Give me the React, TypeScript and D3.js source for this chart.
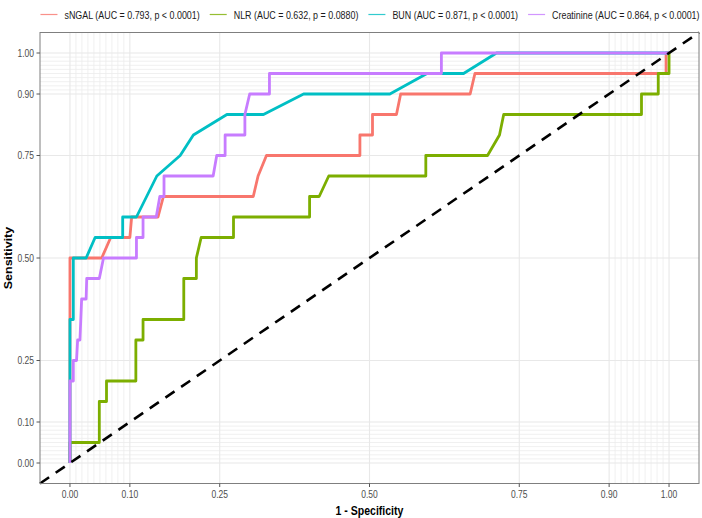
import * as d3 from "d3"
import { useEffect, useRef } from "react"

// ROC points: [1 - specificity, sensitivity]
const sngal: [number, number][] = [
  [0, 0], [0, 0.35], [0, 0.5], [0.053, 0.5], [0.068, 0.55], [0.1, 0.55], [0.103, 0.6],
  [0.147, 0.6], [0.156, 0.65], [0.306, 0.65], [0.314, 0.7], [0.328, 0.75], [0.484, 0.75],
  [0.484, 0.8], [0.505, 0.8], [0.505, 0.85], [0.545, 0.85], [0.552, 0.9], [0.668, 0.9],
  [0.676, 0.95], [0.995, 0.95], [0.995, 1], [1, 1]
]

const nlr: [number, number][] = [
  [0, 0], [0, 0.05], [0.049, 0.05], [0.049, 0.15], [0.061, 0.15], [0.061, 0.2], [0.11, 0.2],
  [0.11, 0.3], [0.122, 0.3], [0.122, 0.35], [0.19, 0.35], [0.19, 0.45], [0.211, 0.45],
  [0.211, 0.5], [0.219, 0.55], [0.273, 0.55], [0.273, 0.6], [0.4, 0.6], [0.4, 0.65],
  [0.416, 0.65], [0.432, 0.7], [0.594, 0.7], [0.594, 0.75], [0.697, 0.75], [0.717, 0.8],
  [0.724, 0.85], [0.954, 0.85], [0.954, 0.9], [0.982, 0.9], [0.982, 0.95], [1, 0.95], [1, 1]
]

const bun: [number, number][] = [
  [0, 0], [0, 0.2], [0, 0.35], [0.0056, 0.35], [0.0056, 0.5], [0.027, 0.5], [0.042, 0.55],
  [0.088, 0.55], [0.088, 0.6], [0.111, 0.6], [0.145, 0.7], [0.184, 0.75], [0.206, 0.8],
  [0.262, 0.85], [0.323, 0.85], [0.39, 0.9], [0.534, 0.9], [0.596, 0.95], [0.657, 0.95],
  [0.712, 1], [1, 1]
]

const creatinine: [number, number][] = [
  [0, 0], [0, 0.2], [0.0056, 0.2], [0.0056, 0.25], [0.011, 0.25], [0.0128, 0.3], [0.0167, 0.3],
  [0.0195, 0.4], [0.027, 0.4], [0.028, 0.45], [0.049, 0.45], [0.056, 0.5], [0.111, 0.5],
  [0.111, 0.55], [0.122, 0.55], [0.122, 0.6], [0.144, 0.6], [0.15, 0.65], [0.157, 0.65],
  [0.157, 0.7], [0.239, 0.7], [0.245, 0.75], [0.259, 0.75], [0.259, 0.8], [0.292, 0.8],
  [0.292, 0.85], [0.3, 0.9], [0.333, 0.9], [0.333, 0.95], [0.62, 0.95], [0.62, 1], [1, 1]
]

const seriesNames = [
  "sNGAL (AUC = 0.793, p < 0.0001)",
  "NLR (AUC = 0.632, p = 0.0880)",
  "BUN (AUC = 0.871, p < 0.0001)",
  "Creatinine (AUC = 0.864, p < 0.0001)"
]
const seriesColors = ["#F8766D", "#7CAE00", "#00BFC4", "#C77CFF"]
const seriesData = [sngal, nlr, bun, creatinine]

const majorBreaks = [0, 0.1, 0.25, 0.5, 0.75, 0.9, 1]
const minorBreaks = [
  0.01, 0.02, 0.03, 0.04, 0.05, 0.06, 0.07, 0.08, 0.09,
  0.91, 0.92, 0.93, 0.94, 0.95, 0.96, 0.97, 0.98, 0.99
]

const SQ = 0.81 // the picture's text is squeezed sideways

const App = () => {
  const svgRef = useRef<SVGSVGElement | null>(null)

  useEffect(() => {
    if (!svgRef.current) return
    const svg = d3.select(svgRef.current)
    svg.selectAll("*").remove()

    const left = 40, right = 699, top = 32.5, bottom = 483.5
    const x = d3.scaleLinear().domain([-0.05, 1.05]).range([left, right])
    const y = d3.scaleLinear().domain([-0.05, 1.05]).range([bottom, top])

    svg.append("rect").attr("width", 702).attr("height", 518).attr("fill", "#fff")

    const grid = svg.append("g")
    minorBreaks.forEach(v => {
      grid.append("line").attr("x1", x(v)).attr("x2", x(v)).attr("y1", top).attr("y2", bottom)
        .attr("stroke", "#ececec").attr("stroke-width", 0.8)
      grid.append("line").attr("y1", y(v)).attr("y2", y(v)).attr("x1", left).attr("x2", right)
        .attr("stroke", "#ececec").attr("stroke-width", 0.8)
    })
    majorBreaks.forEach(v => {
      grid.append("line").attr("x1", x(v)).attr("x2", x(v)).attr("y1", top).attr("y2", bottom)
        .attr("stroke", "#e8e8e8").attr("stroke-width", 1.1)
      grid.append("line").attr("y1", y(v)).attr("y2", y(v)).attr("x1", left).attr("x2", right)
        .attr("stroke", "#e8e8e8").attr("stroke-width", 1.1)
    })

    // curves
    const line = d3.line<[number, number]>().x(d => x(d[0])).y(d => y(d[1]))
    seriesData.forEach((data, i) => {
      svg.append("path").datum(data).attr("d", line).attr("fill", "none")
        .attr("stroke", seriesColors[i]).attr("stroke-width", 2.8)
        .attr("stroke-linejoin", "round")
    })

    // chance line
    svg.append("line")
      .attr("x1", x(-0.05)).attr("y1", y(-0.05)).attr("x2", x(1.05)).attr("y2", y(1.05))
      .attr("stroke", "#000").attr("stroke-width", 2.6).attr("stroke-dasharray", "11,8")

    svg.append("rect").attr("x", left).attr("y", top)
      .attr("width", right - left).attr("height", bottom - top)
      .attr("fill", "none").attr("stroke", "#7f7f7f").attr("stroke-width", 1)

    const squeezedText = (px: number, py: number, txt: string, rot = 0) =>
      svg.append("text")
        .attr("transform", `translate(${px},${py}) scale(${SQ},1)${rot ? ` rotate(${rot})` : ""}`)
        .style("font-family", "Liberation Sans, Arial, sans-serif")
        .text(txt)

    // axes ticks and labels
    majorBreaks.forEach(v => {
      svg.append("line").attr("x1", x(v)).attr("x2", x(v)).attr("y1", bottom).attr("y2", bottom + 3.5)
        .attr("stroke", "#555")
      squeezedText(x(v), bottom + 14.5, d3.format(".2f")(v))
        .attr("text-anchor", "middle").style("font-size", "10.5px").attr("fill", "#4d4d4d")
      svg.append("line").attr("y1", y(v)).attr("y2", y(v)).attr("x1", left - 3.5).attr("x2", left)
        .attr("stroke", "#555")
      squeezedText(left - 6, y(v) + 3.8, d3.format(".2f")(v))
        .attr("text-anchor", "end").style("font-size", "10.5px").attr("fill", "#4d4d4d")
    })

    squeezedText(x(0.5), 515, "1 - Specificity")
      .attr("text-anchor", "middle").style("font-size", "13px").style("font-weight", "bold")
    squeezedText(11.5, (top + bottom) / 2, "Sensitivity", -90)
      .attr("text-anchor", "middle").style("font-size", "12.5px").style("font-weight", "bold")

    // legend on top
    const legend = svg.append("g")
    const items = seriesNames.map((name, i) => {
      const t = squeezedText(0, 0, name).style("font-size", "11px").attr("fill", "#1a1a1a")
      const w = (t.node() as SVGTextElement).getComputedTextLength() * SQ
      t.remove()
      return { name, i, w }
    })
    const keyW = 17, keyGap = 7, itemGap = 10
    const total = d3.sum(items, d => keyW + keyGap + d.w) + itemGap * (items.length - 1)
    let cx = 370 - total / 2
    items.forEach(d => {
      legend.append("line").attr("x1", cx).attr("x2", cx + keyW).attr("y1", 14.5).attr("y2", 14.5)
        .attr("stroke", seriesColors[d.i]).attr("stroke-width", 1.2).attr("opacity", 0.8)
      squeezedText(cx + keyW + keyGap, 18.5, d.name).style("font-size", "11px").attr("fill", "#1a1a1a")
      cx += keyW + keyGap + d.w + itemGap
    })
  }, [])

  return (
    <svg
      ref={svgRef}
      width={702}
      height={518}
      style={{ position: "fixed", left: 0, top: 0 }}
    />
  )
}

export default App
